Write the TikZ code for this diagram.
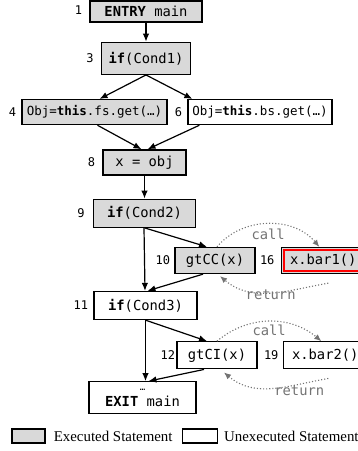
\documentclass[tikz,border=0pt]{standalone}
\usepackage{fontspec}
\setmainfont{Liberation Serif}
\setmonofont{DejaVu Sans Mono}
\usepackage{tikz}
\usetikzlibrary{arrows.meta}
\usetikzlibrary{positioning}
\newcommand{\kw}[1]{\textbf{#1}}
\colorlet{execgray}{black!15}
\colorlet{callgray}{black!55}

\begin{document}
\begin{tikzpicture}[auto,
		exec/.style={draw, line width=1.3pt, fill=execgray, inner sep=2pt},
		unexec/.style={draw, line width=1.3pt, fill=white, inner sep=2pt},
		num/.style={inner sep=0pt, font=\ttfamily\fontsize{12}{13}\selectfont},
		flow/.style={line width=1.2pt, -{Latex[length=8pt,width=6.5pt]}},
		calling/.style={callgray, dotted, line width=1.1pt, -{Latex[length=7pt,width=6pt]}}]
				\useasboundingbox (0,0) rectangle (358pt,-451pt);
				\ttfamily\fontsize{13.8}{15}\selectfont
				\node[exec, minimum width=112pt, minimum height=21pt] (entry) at (146pt,-11.5pt) {\kw{ENTRY} main};
				\node[exec, minimum width=89pt, minimum height=32pt, below=19pt of entry] (cond1) {\kw{if}(Cond1)};
				\node[exec, minimum width=145pt, minimum height=25pt, below=24pt of cond1, xshift=-51.5pt, font=\fontsize{12.5}{13}\selectfont] (getfs) {Obj=\kw{this}.fs.get(…)};
				\node[unexec, minimum width=144pt, minimum height=25pt, below=24pt of cond1, xshift=114pt, font=\fontsize{12.5}{13}\selectfont] (getbs) {Obj=\kw{this}.bs.get(…)};
				\node[exec, minimum width=83pt, minimum height=25pt, below=24pt of getfs, xshift=50pt] (assign) {x = obj};
				\node[exec, minimum width=102pt, minimum height=28pt, below=23pt of assign] (cond2) {\kw{if}(Cond2)};
				\node[exec, minimum width=80pt, minimum height=26pt, below=19pt of cond2, xshift=70.5pt] (gtcc) {gtCC(x)};
				\node[exec, minimum width=84pt, minimum height=26pt, right=25pt of gtcc] (bar1) {x.bar1()};
				\node[unexec, minimum width=103pt, minimum height=28pt, below=63pt of cond2, xshift=1pt] (cond3) {\kw{if}(Cond3)};
				\node[unexec, minimum width=80pt, minimum height=27pt, below=21pt of cond3, xshift=71.5pt] (gtci) {gtCI(x)};
				\node[unexec, minimum width=84pt, minimum height=27pt, right=25pt of gtci] (bar2) {x.bar2()};
				\node[unexec, minimum width=107pt, minimum height=32pt, align=center, below=61pt of cond3, xshift=-3pt, inner sep=1pt] (exit) {{\fontsize{9}{8}\selectfont …}\\[1pt]\kw{EXIT} main};
				\draw[red, line width=1.8pt] ([shift={(3.5pt,-3.5pt)}]bar1.north west) rectangle ([shift={(-3.5pt,3.5pt)}]bar1.south east);
				% line numbers
				\node[num, left=7pt of entry, yshift=1pt] (n1) {1};
				\node[num, left=7pt of cond1] (n3) {3};
				\node[num, left=5pt of getfs] (n4) {4};
				\node[num, left=5pt of getbs] (n6) {6};
				\node[num, left=7pt of assign] (n8) {8};
				\node[num, left=8pt of cond2] (n9) {9};
				\node[num, left=4pt of gtcc] (n10) {10};
				\node[num, left=6pt of bar1] (n16) {16};
				\node[num, left=5pt of cond3] (n11) {11};
				\node[num, left=1pt of gtci] (n12) {12};
				\node[num, left=4pt of bar2] (n19) {19};
				% control flow
				\draw[flow] (entry) -- (cond1);
				\draw[flow] (cond1.south) -- ([xshift=5pt]getfs.north);
				\draw[flow] (cond1.south) -- ([xshift=5pt]getbs.north west);
				\draw[flow] ([xshift=3pt]getfs.south) -- ([xshift=-3pt]assign.north);
				\draw[flow] ([xshift=12pt]getbs.south west) -- ([xshift=3pt]assign.north);
				\draw[flow] (assign) -- (cond2);
				\draw[flow] (cond2.south) -- ([xshift=-8pt]gtcc.north);
				\draw[flow] ([xshift=-0.5pt]cond2.south) -- ([xshift=-0.5pt]cond3.north);
				\draw[flow] ([xshift=-12pt]gtcc.south) -- ([xshift=2pt]cond3.north);
				\draw[flow] (cond3.south) -- ([xshift=-10pt]gtci.north);
				\draw[flow] (cond3.south) -- ([xshift=3pt]exit.north);
				\draw[flow] ([xshift=-13pt]gtci.south) -- ([xshift=6pt]exit.north);
				% calls and returns
				\coordinate (ret1) at ([xshift=5pt,yshift=-9pt]bar1.south);
				\coordinate (ret2) at ([xshift=3pt,yshift=-9pt]bar2.south);
				\draw[calling] ([xshift=2pt]gtcc.north) to[out=50, in=130] node[midway, below=0pt] (lcall1) {call} ([xshift=-4pt]bar1.north);
				\draw[calling] (ret1) to[out=190, in=-40] node[midway, yshift=4pt, inner sep=1pt] (lret1) {return} ([xshift=5pt,yshift=-2pt]gtcc.south);
				\draw[calling] (gtci.north) to[out=40, in=140] node[midway, below=-2pt] (lcall2) {call} ([xshift=-4pt]bar2.north);
				\draw[calling] (ret2) to[out=190, in=-40] node[midway, yshift=4pt, inner sep=1pt] (lret2) {return} ([xshift=7pt,yshift=-3pt]gtci.south);
				% legend
				\node[exec, line width=1.2pt, minimum width=33pt, minimum height=14pt, inner sep=0pt] (legexec) at (28.5pt,-436pt) {};
				\node[inner sep=0pt, right=8pt of legexec, font=\rmfamily\fontsize{14.9}{16}\selectfont] (legexectext) {Executed Statement};
				\node[unexec, line width=1.2pt, minimum width=35pt, minimum height=14pt, inner sep=0pt, right=9pt of legexectext] (legunexec) {};
				\node[inner sep=0pt, right=6pt of legunexec, font=\rmfamily\fontsize{14.9}{16}\selectfont] (legunexectext) {Unexecuted Statement};
\end{tikzpicture}
\end{document}
